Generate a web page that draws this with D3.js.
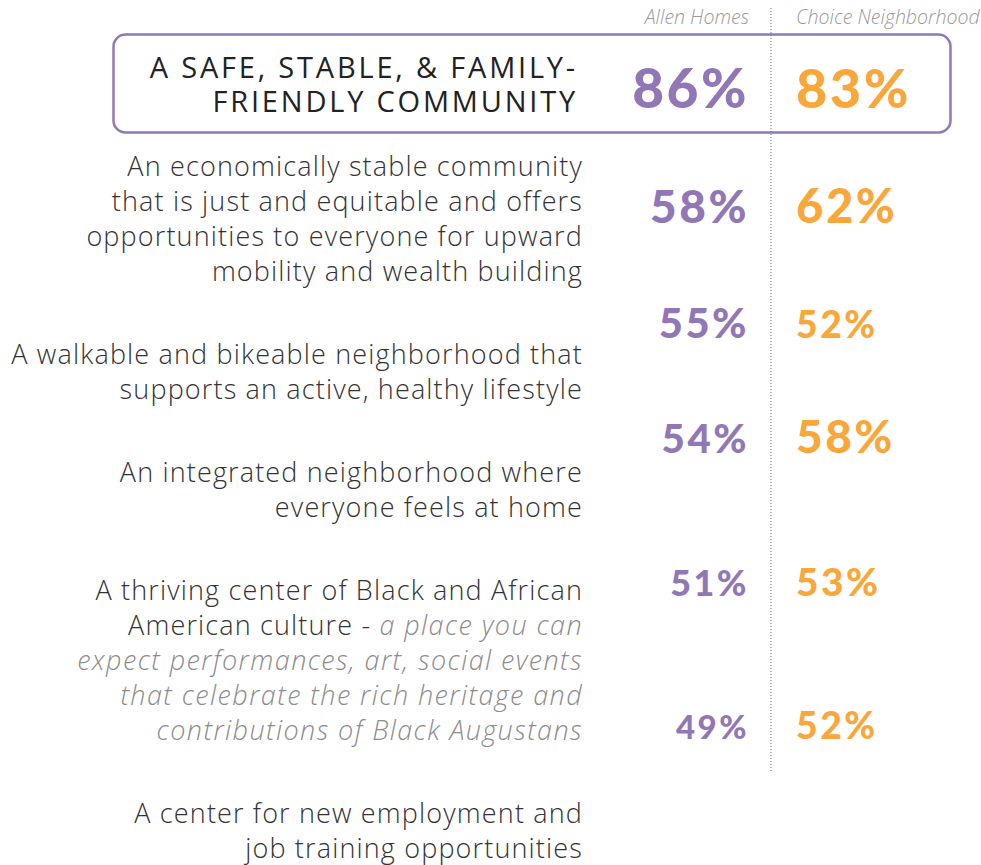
<!DOCTYPE html>
<html>
<head>
<meta charset="utf-8">
<script src="https://cdn.jsdelivr.net/npm/d3@7"></script>
<style>
  html, body { margin: 0; padding: 0; background: #fff; }
  svg { display: block; }
</style>
</head>
<body>
<div id="chart"></div>
<script>
// Categories, one entry per line of the label ("|" starts the italic part)
var categories = [
	['A SAFE, STABLE, & FAMILY-', 'FRIENDLY COMMUNITY'],
	['An economically stable community', 'that is just and equitable and offers', 'opportunities to everyone for upward', 'mobility and wealth building'],
	['A walkable and bikeable neighborhood that', 'supports an active, healthy lifestyle'],
	['An integrated neighborhood where', 'everyone feels at home'],
	['A thriving center of Black and African', 'American culture - |a place you can', 'expect performances, art, social events', 'that celebrate the rich heritage and', 'contributions of Black Augustans'],
	['A center for new employment and', 'job training opportunities']
];
var groups = ['Allen Homes', 'Choice Neighborhood'];
var allenHomes = [86, 58, 55, 54, 51, 49];
var choiceNeighborhood = [83, 62, 52, 58, 53, 52];

var width = 981, height = 865;
var purple = '#9277b6', orange = '#f9a73a';
var labelRight = 583, divider = 771;
var lineH = 35, blockGap = 48;

var svg = d3.select('#chart')
	.append('svg')
	.attr('width', width)
	.attr('height', height);

// Row layout: title sits inside the box, other rows stack by line count
var rowTop = [];
var y = 68;
categories.forEach(function(lines, i) {
	if (i === 1) y = 166;
	rowTop.push(y);
	y += lines.length * lineH + blockGap;
});

// Columns
var x = d3.scaleOrdinal()
	.domain(groups)
	.range([divider - 22, divider + 25]);
var anchor = d3.scaleOrdinal().domain(groups).range(['end', 'start']);
var color = d3.scaleOrdinal().domain(groups).range([purple, orange]);

// Value rows drift relative to the labels in the original
var yValue = d3.scaleLinear().domain([0, 3, 5]).range([108, 453, 739]);
var fontSize = d3.scaleLinear().domain([49, 58, 86]).range([33, 46, 55]);

// Highlight box around the first row
svg.append('rect')
	.attr('x', 113.5)
	.attr('y', 34.5)
	.attr('width', 837)
	.attr('height', 98)
	.attr('rx', 12)
	.attr('fill', 'none')
	.attr('stroke', purple)
	.attr('stroke-width', 2.5);

// Dotted divider
svg.append('line')
	.attr('x1', divider).attr('x2', divider)
	.attr('y1', 8).attr('y2', 772)
	.attr('stroke', '#666')
	.attr('stroke-width', 1)
	.attr('stroke-dasharray', '1,2');

// Column headers
svg.selectAll('.header')
	.data(groups)
	.enter()
	.append('text')
	.attr('class', 'header')
	.attr('x', function(d) { return x(d); })
	.attr('y', 24)
	.attr('text-anchor', function(d) { return anchor(d); })
	.style('font-family', 'Open Sans')
	.style('font-style', 'italic')
	.style('font-weight', 300)
	.style('font-size', '19.5px')
	.attr('fill', '#999')
	.text(function(d) { return d; });

// Labels
categories.forEach(function(lines, i) {
	var italic = false;
	var t = svg.append('text')
		.attr('text-anchor', 'end')
		.style('font-family', 'Open Sans')
		.style('font-weight', i === 0 ? 500 : 300)
		.style('font-size', i === 0 ? '29px' : '27px')
		.style('letter-spacing', i === 0 ? '2.8px' : '1.15px')
		.attr('fill', i === 0 ? '#222' : '#333');

	lines.forEach(function(line, j) {
		var yy = rowTop[i] + j * (i === 0 ? 34 : lineH) + 10;
		var parts = line.split('|');
		parts.forEach(function(part, k) {
			if (k > 0) italic = true;
			var span = t.append('tspan').text(part);
			if (k === 0) span.attr('x', i === 0 ? labelRight - 5 : labelRight).attr('y', yy);
			if (italic) span.style('font-style', 'italic').style('letter-spacing', '1.4px').attr('fill', '#8c8c8c');
		});
	});
});

// Values
groups.forEach(function(g, gi) {
	var values = gi === 0 ? allenHomes : choiceNeighborhood;
	svg.selectAll('.val' + gi)
		.data(values)
		.enter()
		.append('text')
		.attr('class', 'val' + gi)
		.attr('x', x(g))
		.attr('y', function(d, i) { return yValue(i); })
		.attr('text-anchor', anchor(g))
		.attr('fill', color(g))
		.style('font-family', 'Lato')
		.style('font-weight', 900)
		.style('letter-spacing', '2.5px')
		.style('font-size', function(d) { return fontSize(d) + 'px'; })
		.text(function(d) { return d + '%'; });
});
</script>
</body>
</html>
